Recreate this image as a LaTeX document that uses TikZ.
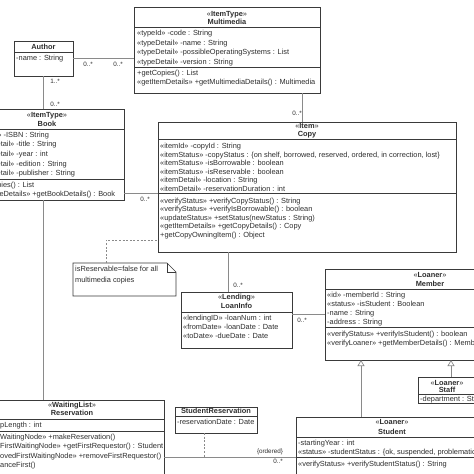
\documentclass[tikz,border=0pt]{standalone}
\usepackage{fontspec}
\setmainfont{Liberation Sans}
\usetikzlibrary{arrows.meta}
\definecolor{boxc}{HTML}{3A3A3A}
\definecolor{linec}{HTML}{8A8A8A}
\definecolor{txtc}{HTML}{2E2E2E}
\tikzset{
  umlbox/.style={draw=boxc, line width=0.7pt, fill=white, inner sep=0pt, outer sep=0pt, anchor=north west},
  notebox/.style={draw=none, inner sep=0pt, outer sep=0pt, anchor=north west},
  txt/.style={inner sep=0pt, anchor=base west, yshift=-2.5pt, font=\fontsize{7.4}{8}\selectfont, text=txtc},
  ttl/.style={inner sep=0pt, anchor=base, yshift=-2.5pt, font=\fontsize{7.4}{8}\selectfont, text=txtc},
  sepl/.style={draw=boxc, line width=0.6pt},
  assoc/.style={draw=linec, line width=0.7pt},
  mult/.style={inner sep=0pt, anchor=base, yshift=-2.2pt, font=\fontsize{6.3}{7}\selectfont, text=txtc},
  gen/.style={assoc, -{Triangle[open, length=6pt, width=7pt]}},
  dep/.style={assoc, dash pattern=on 2pt off 1.6pt},
}
\begin{document}
\begin{tikzpicture}[x=1pt, y=-1pt]
\useasboundingbox (0,0) rectangle (474,474);
\clip (0,0) rectangle (474,474);
\fill[white] (0,0) rectangle (474,474);

% ---------- boxes ----------
\node[umlbox, minimum width=59, minimum height=35] (author) at (14,41) {};
\node[umlbox, minimum width=186, minimum height=86] (mm) at (134,7) {};
\node[umlbox, minimum width=154, minimum height=91] (book) at (-30,109) {};
\node[umlbox, minimum width=298, minimum height=130] (copy) at (158,122) {};
\node[umlbox, minimum width=111, minimum height=56] (loan) at (181,292) {};
\node[umlbox, minimum width=210, minimum height=91] (member) at (325,269) {};
\node[umlbox, minimum width=60, minimum height=26] (staff) at (418,377) {};
\node[umlbox, minimum width=192, minimum height=70] (student) at (296,417) {};
\node[umlbox, minimum width=184, minimum height=80] (res) at (-20,400) {};
\node[umlbox, minimum width=82, minimum height=26] (sr) at (175,407) {};
\node[notebox, minimum width=103, minimum height=33] (note) at (73,263) {};

% note shape
\draw[boxc, line width=0.7pt, fill=white] (note.north west) -- ([xshift=-9pt]note.north east) -- ([yshift=-9pt]note.north east) -- (note.south east) -- (note.south west) -- cycle;
\draw[boxc, line width=0.6pt] ([xshift=-9pt]note.north east) -- ([xshift=-9pt,yshift=-9pt]note.north east) -- ([yshift=-9pt]note.north east);
\node[txt] at (75,269) {isReservable=false for all};
\node[txt] at (75,280) {multimedia copies};

% ---------- Author ----------
\node[ttl] at (43.5,46.5) {\textbf{Author}};
\draw[sepl] (14,52) -- (73,52);
\node[txt] at (16,58) {-name : String};

% ---------- Multimedia ----------
\node[ttl] at (227,14) {«\textbf{ItemType}»};
\node[ttl] at (227,22) {\textbf{Multimedia}};
\draw[sepl] (134,27.5) -- (320,27.5);
\node[txt] at (137,33) {«typeId» -code : String};
\node[txt] at (137,42.5) {«typeDetail» -name : String};
\node[txt] at (137,52) {«typeDetail» -possibleOperatingSystems : List};
\node[txt] at (137,61.5) {«typeDetail» -version : String};
\draw[sepl] (134,67.5) -- (320,67.5);
\node[txt] at (137,72.5) {+getCopies() : List};
\node[txt] at (137,82) {«getItemDetails» +getMultimediaDetails() : Multimedia};

% ---------- Book ----------
\node[ttl] at (47,115) {«\textbf{ItemType}»};
\node[ttl] at (47,124) {\textbf{Book}};
\draw[sepl] (-30,129) -- (124,129);
\node[txt] at (-27,134.5) {«typeId» -ISBN : String};
\node[txt] at (-27,144) {«typeDetail» -title : String};
\node[txt] at (-27,153.5) {«typeDetail» -year : int};
\node[txt] at (-27,163.5) {«typeDetail» -edition : String};
\node[txt] at (-27,173) {«typeDetail» -publisher : String};
\draw[sepl] (-30,179.5) -- (124,179.5);
\node[txt] at (-27,185) {+getCopies() : List};
\node[txt] at (-27,194) {«getTypeDetails» +getBookDetails() : Book};

% ---------- Copy ----------
\node[ttl] at (307,126) {«\textbf{Item}»};
\node[ttl] at (307,134) {\textbf{Copy}};
\draw[sepl] (158,139.5) -- (456,139.5);
\node[txt] at (160,146) {«itemId» -copyId : String};
\node[txt] at (160,154.6) {«itemStatus» -copyStatus : \{on shelf, borrowed, reserved, ordered, in correction, lost\}};
\node[txt] at (160,163.2) {«itemStatus» -isBorrowable : boolean};
\node[txt] at (160,171.8) {«itemStatus» -isReservable : boolean};
\node[txt] at (160,180.4) {«itemDetail» -location : String};
\node[txt] at (160,189) {«itemDetail» -reservationDuration : int};
\draw[sepl] (158,193.5) -- (456,193.5);
\node[txt] at (160,200.5) {«verifyStatus» +verifyCopyStatus() : String};
\node[txt] at (160,209) {«verifyStatus» +verifyIsBorrowable() : boolean};
\node[txt] at (160,217.6) {«updateStatus» +setStatus(newStatus : String)};
\node[txt] at (160,226.2) {«getItemDetails» +getCopyDetails() : Copy};
\node[txt] at (160,234.8) {+getCopyOwningItem() : Object};

% ---------- LoanInfo ----------
\node[ttl] at (236.5,297) {«\textbf{Lending}»};
\node[ttl] at (236.5,306) {\textbf{LoanInfo}};
\draw[sepl] (181,312) -- (292,312);
\node[txt] at (183,317.5) {«lendingID» -loanNum : int};
\node[txt] at (183,326.5) {«fromDate» -loanDate : Date};
\node[txt] at (183,336) {«toDate» -dueDate : Date};

% ---------- Member ----------
\node[ttl] at (430,275) {«\textbf{Loaner}»};
\node[ttl] at (430,284) {\textbf{Member}};
\draw[sepl] (325,289) -- (535,289);
\node[txt] at (327,294.5) {«id» -memberId : String};
\node[txt] at (327,303.5) {«status» -isStudent : Boolean};
\node[txt] at (327,312.5) {-name : String};
\node[txt] at (327,321.5) {-address : String};
\draw[sepl] (325,327) -- (535,327);
\node[txt] at (327,333.5) {«verifyStatus» +verifyIsStudent() : boolean};
\node[txt] at (327,342.5) {«verifyLoaner» +getMemberDetails() : Member};

% ---------- Staff ----------
\node[ttl] at (447,383) {«\textbf{Loaner}»};
\node[ttl] at (447,389.5) {\textbf{Staff}};
\draw[sepl] (418,394) -- (478,394);
\node[txt] at (420,398.5) {-department : String};

% ---------- Student ----------
\node[ttl] at (392,422) {«\textbf{Loaner}»};
\node[ttl] at (392,432) {\textbf{Student}};
\draw[sepl] (296,437.5) -- (488,437.5);
\node[txt] at (298,443) {-startingYear : int};
\node[txt] at (298,452) {«status» -studentStatus : \{ok, suspended, problematic\}};
\draw[sepl] (296,457) -- (488,457);
\node[txt] at (298,464) {«verifyStatus» +verifyStudentStatus() : String};

% ---------- Reservation ----------
\node[ttl] at (72,404.5) {«\textbf{WaitingList}»};
\node[ttl] at (72,413) {\textbf{Reservation}};
\draw[sepl] (-20,419) -- (164,419);
\node[txt] at (0,424.5) {\llap{-hea}pLength : int};
\draw[sepl] (-20,431) -- (164,431);
\node[txt] at (0,436.5) {\llap{«add}WaitingNode» +makeReservation()};
\node[txt] at (0,446) {\llap{«get}FirstWaitingNode» +getFirstRequestor() : Student};
\node[txt] at (0,456) {\llap{«rem}ovedFirstWaitingNode» +removeFirstRequestor()};
\node[txt] at (0,465) {\llap{+adv}anceFirst()};

% ---------- StudentReservation ----------
\node[ttl] at (216,411) {\textbf{StudentReservation}};
\draw[sepl] (175,416) -- (257,416);
\node[txt] at (177,422) {-reservationDate : Date};

% ---------- connectors ----------
\draw[assoc] (author.east) -- (author.east -| mm.west);
\node[mult] at (88,64) {0..*};
\node[mult] at (118,64) {0..*};

\draw[assoc] (author.south) -- (author.south |- book.north);
\node[mult] at (55,81) {1..*};
\node[mult] at (55,104) {0..*};

\draw[assoc] (mm.south -| 302,0) -- (copy.north -| 302,0);
\node[mult] at (297,113) {0..*};

\draw[assoc] (book.east |- 0,193) -- (copy.west |- 0,193);
\node[mult] at (145,199.5) {0..*};

\draw[assoc] (book.south -| author.south) -- (res.north -| author.south);

\draw[dep] ([xshift=33pt]note.north west) |- (copy.west |- 0,240);

\draw[assoc] (copy.south -| 228,0) -- (loan.north -| 228,0);
\node[mult] at (238,285) {0..*};

\draw[assoc] (loan.east |- 0,314) -- (member.west |- 0,314);
\node[mult] at (302,320.5) {0..*};

\draw[gen] (student.north -| 361,0) -- (member.south -| 361,0);
\draw[gen] (staff.north -| 451,0) -- (member.south -| 451,0);

\draw[assoc] (res.east |- 0,457) -- coordinate[pos=0.303] (ac) (student.west |- 0,457);
\node[mult] at (270,451) {\{ordered\}};
\node[mult] at (278,461) {0..*};
\draw[dep] (sr.south -| ac) -- (ac);
\end{tikzpicture}
\end{document}
